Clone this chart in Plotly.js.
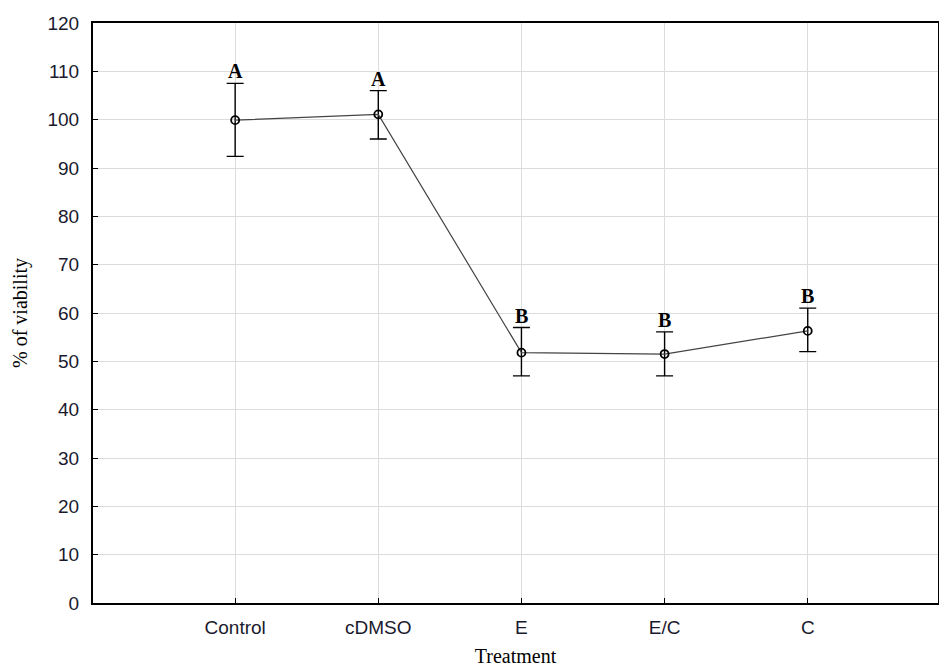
<!DOCTYPE html>
<html>
<head>
<meta charset="utf-8">
<script src="https://cdn.plot.ly/plotly-3.0.1.min.js"></script>
<style>html,body{margin:0;padding:0;background:#fff;}#chart{width:939px;height:667px;}</style>
</head>
<body>
<div id="chart"></div>
<script>
const categories = ["Control", "cDMSO", "E", "E/C", "C"];
const viability = [99.9, 101.1, 51.8, 51.5, 56.3];
const errUpper = [7.6, 4.9, 5.2, 4.6, 4.7];
const errLower = [7.5, 5.1, 4.8, 4.5, 4.3];
const groupLetters = ["A", "A", "B", "B", "B"];
const yTicks = [0, 10, 20, 30, 40, 50, 60, 70, 80, 90, 100, 110, 120];

const trace = {
  x: categories,
  y: viability,
  type: "scatter",
  mode: "lines+markers",
  line: {color: "#444", width: 1.2},
  marker: {symbol: "circle-open", size: 8, color: "#000", line: {width: 1.8, color: "#000"}},
  error_y: {type: "data", symmetric: false, array: errUpper, arrayminus: errLower,
            color: "#000", thickness: 1.4, width: 8.5},
  hoverinfo: "skip",
  showlegend: false
};

const annotations = categories.map((c, i) => ({
  x: c, y: viability[i] + errUpper[i], xref: "x", yref: "y",
  text: "<b>" + groupLetters[i] + "</b>", showarrow: false,
  yanchor: "bottom", yshift: -1,
  font: {family: "Liberation Serif, serif", size: 20, color: "#000"}
}));

const layout = {
  width: 939, height: 667,
  margin: {l: 93, r: 1, t: 23, b: 64},
  paper_bgcolor: "#fff", plot_bgcolor: "#fff",
  xaxis: {
    type: "category", range: [-0.993, 4.91],
    showgrid: true, gridcolor: "#dcdcdc", gridwidth: 1,
    showline: true, linecolor: "#000", linewidth: 2, mirror: true,
    ticks: "inside", ticklen: 5, tickcolor: "#000",
    ticklabelstandoff: 6,
    tickfont: {family: "Liberation Sans, Arial, sans-serif", size: 19, color: "#1a1a2e"},
    title: {text: "Treatment", font: {family: "Liberation Serif, serif", size: 20, color: "#000"}, standoff: 17},
    zeroline: false, fixedrange: true
  },
  yaxis: {
    range: [0, 120], tickvals: yTicks,
    showgrid: true, gridcolor: "#dcdcdc", gridwidth: 1,
    showline: true, linecolor: "#000", linewidth: 2, mirror: true,
    ticks: "inside", ticklen: 5, tickcolor: "#000",
    ticklabelstandoff: 8,
    tickfont: {family: "Liberation Sans, Arial, sans-serif", size: 19, color: "#1a1a2e"},
    title: {text: "% of viability", font: {family: "Liberation Serif, serif", size: 20, color: "#000"}, standoff: 14},
    zeroline: false, fixedrange: true
  },
  annotations: annotations
};

Plotly.newPlot("chart", [trace], layout, {staticPlot: true, displayModeBar: false});
</script>
</body>
</html>
